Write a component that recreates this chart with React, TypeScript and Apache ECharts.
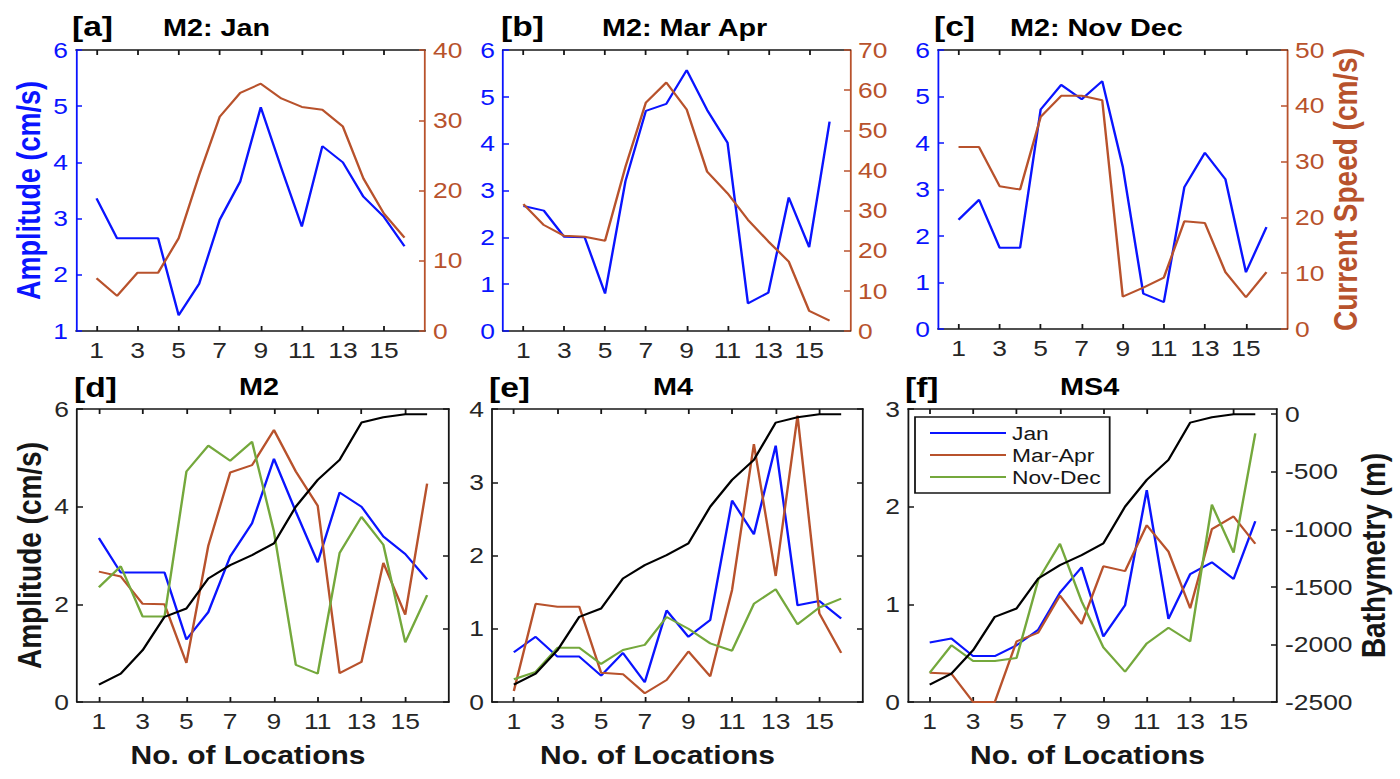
import React, { useEffect, useRef } from 'react';
import * as echarts from 'echarts';

// ---------------- data ----------------
const locations = [1, 2, 3, 4, 5, 6, 7, 8, 9, 10, 11, 12, 13, 14, 15, 16];
const xTickValues = [1, 3, 5, 7, 9, 11, 13, 15];
const bathyTickValues = [-2500, -2000, -1500, -1000, -500, 0];

// M2 amplitude (cm/s)
const m2Jan = [3.36, 2.65, 2.65, 2.65, 1.28, 1.84, 2.98, 3.66, 4.98, 3.9, 2.86, 4.29, 4.0, 3.39, 3.03, 2.51];
const m2MarApr = [2.67, 2.57, 2.01, 2.0, 0.8, 3.2, 4.7, 4.85, 5.57, 4.72, 4.02, 0.59, 0.82, 2.85, 1.79, 4.47];
const m2NovDec = [2.35, 2.78, 1.75, 1.75, 4.72, 5.25, 4.94, 5.33, 3.49, 0.76, 0.58, 3.05, 3.79, 3.22, 1.22, 2.19];

// current speed (cm/s)
const speedJan = [7.5, 5.0, 8.3, 8.3, 13.2, 22.2, 30.5, 33.9, 35.2, 33.1, 31.9, 31.5, 29.1, 21.7, 16.7, 13.3];
const speedMarApr = [31.6, 26.4, 23.7, 23.5, 22.5, 40.9, 56.9, 61.9, 55.2, 39.7, 34.3, 27.7, 22.3, 17.3, 5.0, 2.6];
const speedNovDec = [32.6, 32.6, 25.6, 25.0, 38.0, 41.8, 41.8, 41.0, 5.8, 7.4, 9.2, 19.3, 19.0, 10.2, 5.7, 10.2];

// M4 amplitude (cm/s)
const m4Jan = [0.68, 0.89, 0.62, 0.62, 0.36, 0.67, 0.27, 1.25, 0.89, 1.12, 2.75, 2.29, 3.5, 1.32, 1.38, 1.14];
const m4MarApr = [0.15, 1.34, 1.3, 1.3, 0.4, 0.38, 0.12, 0.3, 0.69, 0.35, 1.53, 3.52, 1.72, 3.91, 1.21, 0.67];
const m4NovDec = [0.31, 0.41, 0.74, 0.74, 0.52, 0.71, 0.78, 1.16, 1.0, 0.8, 0.7, 1.34, 1.54, 1.06, 1.29, 1.41];

// MS4 amplitude (cm/s)
const ms4Jan = [0.61, 0.65, 0.47, 0.47, 0.58, 0.74, 1.12, 1.38, 0.67, 0.99, 2.17, 0.85, 1.31, 1.43, 1.26, 1.85];
const ms4MarApr = [0.3, 0.29, 0.0, 0.0, 0.62, 0.71, 1.09, 0.8, 1.39, 1.34, 1.81, 1.54, 0.96, 1.77, 1.9, 1.62];
const ms4NovDec = [0.3, 0.58, 0.42, 0.42, 0.45, 1.25, 1.62, 1.03, 0.56, 0.31, 0.6, 0.76, 0.62, 2.02, 1.53, 2.75];

// Bathymetry (m)
const bathymetry = [-2349, -2254, -2050, -1760, -1688, -1427, -1311, -1224, -1122, -803, -571, -397, -73, -27, 0, 0];

// ---------------- layout / style ----------------
const S = 1.2; // horizontal stretch of the original figure
const WIDTH = 1400 / S;
const HEIGHT = 779;
const hx = (v: number) => v / S;

const FONT = '"Liberation Sans", Arial, Helvetica, sans-serif';
const BLUE = '#0a14ff';
const BROWN = '#b8522c';
const GREEN = '#74a83c';
const INK = '#161616';
const TICK_TEXT = '#262626';
const TICK_SIZE = 22;

const gridBoxes = [
  { left: 76, top: 50, width: 349, height: 281 },
  { left: 503, top: 50, width: 347, height: 281 },
  { left: 938, top: 50, width: 349, height: 279 },
  { left: 77, top: 409, width: 372, height: 293 },
  { left: 492, top: 409, width: 371, height: 293 },
  { left: 908, top: 409, width: 369, height: 293 },
];
// horizontal shift (image px) of the "No. of Locations" labels, negative = left
const xNameShift = [0, 0, 0, -15, -20, -5];

function buildOption() {
  const grid = gridBoxes.map((b) => ({
    left: hx(b.left),
    top: b.top,
    width: hx(b.width),
    height: b.height,
  }));

  const xAxis: any[] = [];
  gridBoxes.forEach((_, g) => {
    const lower = g >= 3;
    const lineStyle = { color: INK, width: 1.5 };
    const shift = hx(xNameShift[g]);
    xAxis.push({
      gridIndex: g,
      type: 'value',
      min: 0,
      max: 17,
      position: 'bottom',
      axisLine: { show: true, onZero: false, lineStyle },
      axisTick: { show: true, inside: true, length: 5, customValues: xTickValues, lineStyle },
      axisLabel: { show: true, customValues: xTickValues, fontSize: TICK_SIZE, color: TICK_TEXT, margin: 8, fontFamily: FONT },
      splitLine: { show: false },
      name: lower ? 'No. of Locations' : '',
      nameLocation: 'middle',
      nameGap: 41,
      nameTextStyle: {
        fontSize: 25,
        fontWeight: 'bold',
        color: INK,
        fontFamily: FONT,
        padding: shift < 0 ? [0, -2 * shift, 0, 0] : [0, 0, 0, 2 * shift],
      },
    });
    xAxis.push({
      gridIndex: g,
      type: 'value',
      min: 0,
      max: 17,
      position: 'top',
      axisLine: { show: true, onZero: false, lineStyle },
      axisTick: { show: true, inside: true, length: 5, customValues: xTickValues, lineStyle },
      axisLabel: { show: false },
      splitLine: { show: false },
    });
  });

  const yAxis: any[] = [];
  const addY = (cfg: any) => {
    yAxis.push(cfg);
    return yAxis.length - 1;
  };
  const yBase = (
    g: number,
    position: string,
    min: number,
    max: number,
    interval: number,
    color: string,
    labelColor: string,
    showLabel: boolean
  ) => ({
    gridIndex: g,
    type: 'value',
    position,
    min,
    max,
    interval,
    axisLine: { show: true, onZero: false, lineStyle: { color, width: 1.5 } },
    axisTick: { show: true, inside: true, length: 5, lineStyle: { color, width: 1.5 } },
    axisLabel: { show: showLabel, fontSize: TICK_SIZE, color: labelColor, margin: hx(8), fontFamily: FONT },
    splitLine: { show: false },
  });
  const yName = (text: string, color: string, gap: number, size: number) => ({
    name: text,
    nameLocation: 'middle',
    nameRotate: 90,
    nameGap: gap,
    nameTextStyle: { fontSize: size, fontWeight: 'bold', color, fontFamily: FONT },
  });

  const series: any[] = [];
  const line = (name: string, g: number, yIdx: number, values: number[], color: string) => {
    series.push({
      name,
      type: 'line',
      xAxisIndex: 2 * g,
      yAxisIndex: yIdx,
      data: locations.map((x, i) => [x, values[i]]),
      showSymbol: false,
      symbol: 'none',
      color,
      lineStyle: { color, width: 2 },
      clip: true,
      silent: true,
    });
  };

  // [a] M2: Jan
  const aL = addY({ ...yBase(0, 'left', 1, 6, 1, BLUE, BLUE, true), ...yName('Amplitude (cm/s)', BLUE, hx(31), 27) });
  const aR = addY(yBase(0, 'right', 0, 40, 10, BROWN, BROWN, true));
  line('Amplitude Jan', 0, aL, m2Jan, BLUE);
  line('Current Speed Jan', 0, aR, speedJan, BROWN);

  // [b] M2: Mar Apr
  const bL = addY(yBase(1, 'left', 0, 6, 1, BLUE, BLUE, true));
  const bR = addY(yBase(1, 'right', 0, 70, 10, BROWN, BROWN, true));
  line('Amplitude Mar-Apr', 1, bL, m2MarApr, BLUE);
  line('Current Speed Mar-Apr', 1, bR, speedMarApr, BROWN);

  // [c] M2: Nov Dec
  const cL = addY(yBase(2, 'left', 0, 6, 1, BLUE, BLUE, true));
  const cR = addY({ ...yBase(2, 'right', 0, 50, 10, BROWN, BROWN, true), ...yName('Current Speed (cm/s)', BROWN, hx(42), 28) });
  line('Amplitude Nov-Dec', 2, cL, m2NovDec, BLUE);
  line('Current Speed Nov-Dec', 2, cR, speedNovDec, BROWN);

  // [d] M2
  const dL = addY({ ...yBase(3, 'left', 0, 6, 2, INK, TICK_TEXT, true), ...yName('Amplitude (cm/s)', INK, hx(31), 28) });
  addY(yBase(3, 'right', 0, 4, 1, INK, TICK_TEXT, false));
  const dH = addY({ gridIndex: 3, type: 'value', min: -2500, max: 45, show: false });
  line('Jan', 3, dL, m2Jan, BLUE);
  line('Mar-Apr', 3, dL, m2MarApr, BROWN);
  line('Nov-Dec', 3, dL, m2NovDec, GREEN);
  line('Bathymetry', 3, dH, bathymetry, '#000');

  // [e] M4
  const eL = addY(yBase(4, 'left', 0, 4, 1, INK, TICK_TEXT, true));
  addY(yBase(4, 'right', 0, 4, 1, INK, TICK_TEXT, false));
  const eH = addY({ gridIndex: 4, type: 'value', min: -2500, max: 45, show: false });
  line('Jan', 4, eL, m4Jan, BLUE);
  line('Mar-Apr', 4, eL, m4MarApr, BROWN);
  line('Nov-Dec', 4, eL, m4NovDec, GREEN);
  line('Bathymetry', 4, eH, bathymetry, '#000');

  // [f] MS4
  const fL = addY(yBase(5, 'left', 0, 3, 1, INK, TICK_TEXT, true));
  const fR = addY({
    ...yBase(5, 'right', -2500, 45, 500, INK, TICK_TEXT, true),
    axisTick: { show: true, inside: true, length: 5, customValues: bathyTickValues, lineStyle: { color: INK, width: 1.5 } },
    axisLabel: {
      show: true,
      customValues: bathyTickValues,
      fontSize: TICK_SIZE,
      color: TICK_TEXT,
      margin: hx(8),
      fontFamily: FONT,
      formatter: (v: number) => String(v),
    },
    ...yName('Bathymetry (m)', INK, hx(67), 28),
  });
  line('Jan', 5, fL, ms4Jan, BLUE);
  line('Mar-Apr', 5, fL, ms4MarApr, BROWN);
  line('Nov-Dec', 5, fL, ms4NovDec, GREEN);
  line('Bathymetry', 5, fR, bathymetry, '#000');

  const tag = (text: string, left: number, top: number) => ({
    text,
    left: hx(left),
    top,
    padding: 0,
    textStyle: { fontSize: 28, fontWeight: 'bold', color: '#000', fontFamily: FONT },
  });
  const head = (text: string, left: number, top: number) => ({
    text,
    left: hx(left),
    top,
    padding: 0,
    textStyle: { fontSize: 24, fontWeight: 'bold', color: '#000', fontFamily: FONT },
  });

  return {
    animation: false,
    backgroundColor: '#fff',
    textStyle: { fontFamily: FONT },
    title: [
      tag('[a]', 72, 12),
      head('M2: Jan', 163, 16),
      tag('[b]', 501, 12),
      head('M2: Mar Apr', 602, 16),
      tag('[c]', 934, 12),
      head('M2: Nov Dec', 1010, 16),
      tag('[d]', 74, 373),
      head('M2', 239, 375),
      tag('[e]', 489, 373),
      head('M4', 653, 375),
      tag('[f]', 905, 373),
      head('MS4', 1060, 375),
    ],
    legend: {
      data: ['Jan', 'Mar-Apr', 'Nov-Dec'],
      orient: 'vertical',
      left: hx(915),
      top: 417,
      icon: 'rect',
      itemWidth: hx(76),
      itemHeight: 2,
      itemGap: 0,
      padding: [5, hx(9), 5, hx(15)],
      borderColor: INK,
      borderWidth: 1.5,
      backgroundColor: '#fff',
      selectedMode: false,
      textStyle: { fontSize: 19, color: INK, fontFamily: FONT, lineHeight: 22 },
    },
    grid,
    xAxis,
    yAxis,
    series,
  };
}

export default function App() {
  const ref = useRef<HTMLDivElement>(null);
  useEffect(() => {
    if (!ref.current) return;
    const chart = echarts.init(ref.current, undefined, { renderer: 'svg' });
    chart.setOption(buildOption() as any);
    return () => chart.dispose();
  }, []);
  return (
    <div
      ref={ref}
      style={{
        position: 'fixed',
        left: 0,
        top: 0,
        width: WIDTH,
        height: HEIGHT,
        transform: `scaleX(${S})`,
        transformOrigin: '0 0',
        background: '#fff',
      }}
    />
  );
}
